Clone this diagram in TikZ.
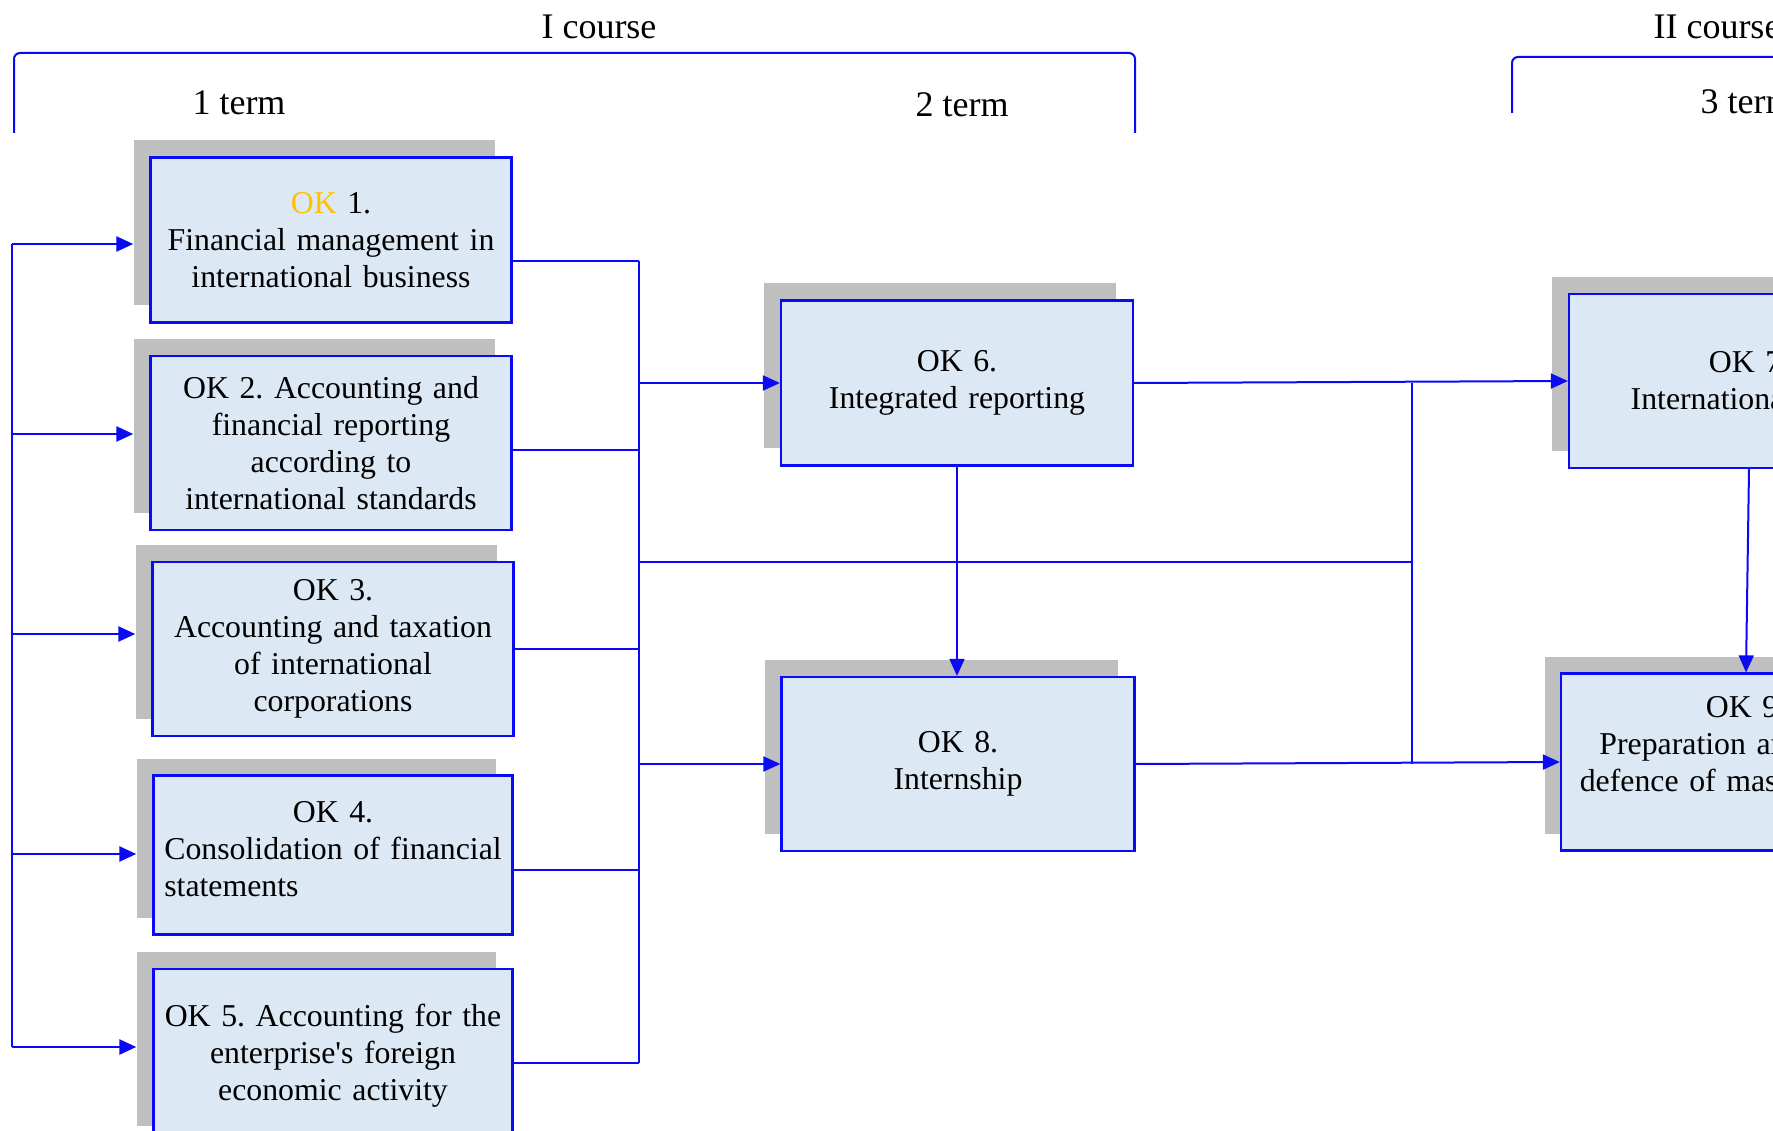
\documentclass[tikz,border=0pt]{standalone}
\usepackage{fontspec}
\setmainfont{Liberation Serif}[Ligatures=TeXOff]
\usetikzlibrary{arrows.meta}
\definecolor{okblue}{RGB}{10,10,245}
\definecolor{okfill}{RGB}{221,232,245}
\definecolor{okgray}{RGB}{191,191,191}
\definecolor{okgold}{RGB}{255,192,0}
\frenchspacing

\begin{document}
\begin{tikzpicture}[x=1pt,y=-1pt,
	okbox/.style={draw=okblue, line width=2.2pt, fill=okfill, align=center, inner sep=0pt, font=\fontsize{31.8}{37}\selectfont},
	okshadow/.style={fill=okgray, inner sep=0pt},
	link/.style={draw=okblue, line width=2pt},
	arr/.style={link, -{Triangle[length=17pt,width=15pt]}},
	term/.style={font=\fontsize{36}{42}\selectfont}]
	\useasboundingbox (0,0) rectangle (1773,1131);
	\clip (0,0) rectangle (1773,1131);
	% courses and terms
	\node[term] (c1) at (599,27) {I course};
	\node[term, anchor=west] (c2) at (1650,27) {II course};
	\node[term] (t1) at (239,103) {1 term};
	\node[term] (t2) at (962,105) {2 term};
	\node[term, anchor=west] (t3) at (1697,102) {3 term};
	\draw[link, rounded corners=6pt] (14,133) -- (14,53) -- (1135,53) -- (1135,133);
	\draw[link, rounded corners=6pt] (1512,113) -- (1512,57) -- (1800,57);
	% shadows
	\node[okshadow, minimum width=361pt, minimum height=165pt] (s1) at (314,223) {};
	\node[okshadow, minimum width=361pt, minimum height=174pt] (s2) at (314,426) {};
	\node[okshadow, minimum width=361pt, minimum height=174pt] (s3) at (316,632) {};
	\node[okshadow, minimum width=359pt, minimum height=159pt] (s4) at (316,838) {};
	\node[okshadow, minimum width=359pt, minimum height=174pt] (s5) at (316,1039) {};
	\node[okshadow, minimum width=352pt, minimum height=165pt] (s6) at (940,366) {};
	\node[okshadow, minimum width=353pt, minimum height=174pt] (s8) at (941,747) {};
	\node[okshadow, minimum width=360pt, minimum height=174pt] (s7) at (1732,364) {};
	\node[okshadow, minimum width=370pt, minimum height=177pt] (s9) at (1730,745) {};
	% courses
	\node[okbox, minimum width=361pt, minimum height=165pt, text width=355pt] (b1) at (331,240)
		{{\color{okgold}OK} 1.\\Financial management in\\international business};
	\node[okbox, minimum width=361pt, minimum height=174pt, text width=355pt] (b2) at (331,443)
		{OK 2. Accounting and\\financial reporting\\according to\\international standards};
	\node[okbox, minimum width=361pt, minimum height=174pt, text width=355pt] (b3) at (333,649)
		{OK 3.\\Accounting and taxation\\of international\\corporations};
	\node[okbox, minimum width=359pt, minimum height=159pt, text width=353pt] (b4) at (333,855)
		{OK 4.\\\begin{tabular}[t]{@{}l@{}}Consolidation of financial\\statements\end{tabular}};
	\node[okbox, minimum width=359pt, minimum height=174pt, text width=353pt] (b5) at (333,1056)
		{OK 5. Accounting for the\\enterprise's foreign\\economic activity};
	\node[okbox, minimum width=352pt, minimum height=165pt, text width=346pt] (b6) at (957,383)
		{OK 6.\\Integrated reporting};
	\node[okbox, minimum width=353pt, minimum height=174pt, text width=347pt] (b8) at (958,764)
		{OK 8.\\Internship};
	\node[okbox, minimum width=360pt, minimum height=174pt, text width=354pt] (b7) at (1749,381)
		{OK 7.\\International audit};
	\node[okbox, minimum width=370pt, minimum height=177pt, text width=364pt] (b9) at (1746,762)
		{OK 9.\\Preparation and public\\defence of master's thesis\\\mbox{}};
	% links
	\foreach \i/\y in {1/244,2/434,3/634,4/854,5/1047} {
		\coordinate (l\i) at (12,\y);
		\draw[arr, line width=2.6pt] (l\i) -- (l\i -| s\i.west);
	}
	\draw[link, line width=2.6pt] (l1) -- (l5);
	\foreach \i/\y in {1/261,2/450,3/649,4/870,5/1063} {
		\coordinate (r\i) at (639,\y);
		\draw[link] (r\i -| b\i.east) -- (r\i);
	}
	\draw[link] (r1) -- (r5);
	\coordinate (j6) at (639,383);
	\coordinate (j8) at (639,764);
	\draw[arr] (j6) -- (b6.west);
	\draw[arr] (j8) -- (b8.west);
	\coordinate (m1) at (639,562);
	\coordinate (m2) at (1412,562);
	\draw[link] (m1) -- (m2);
	\draw[link] (b6.east -| m2) -- (b8.east -| m2);
	\draw[arr] (b6.south) -- (b6.south |- b8.north);
	\draw[arr] (b6.east) -- (b7.west);
	\draw[arr] (b8.east) -- (b9.west);
	\draw[arr] (b7.south) -- (b9.north);
\end{tikzpicture}
\end{document}
